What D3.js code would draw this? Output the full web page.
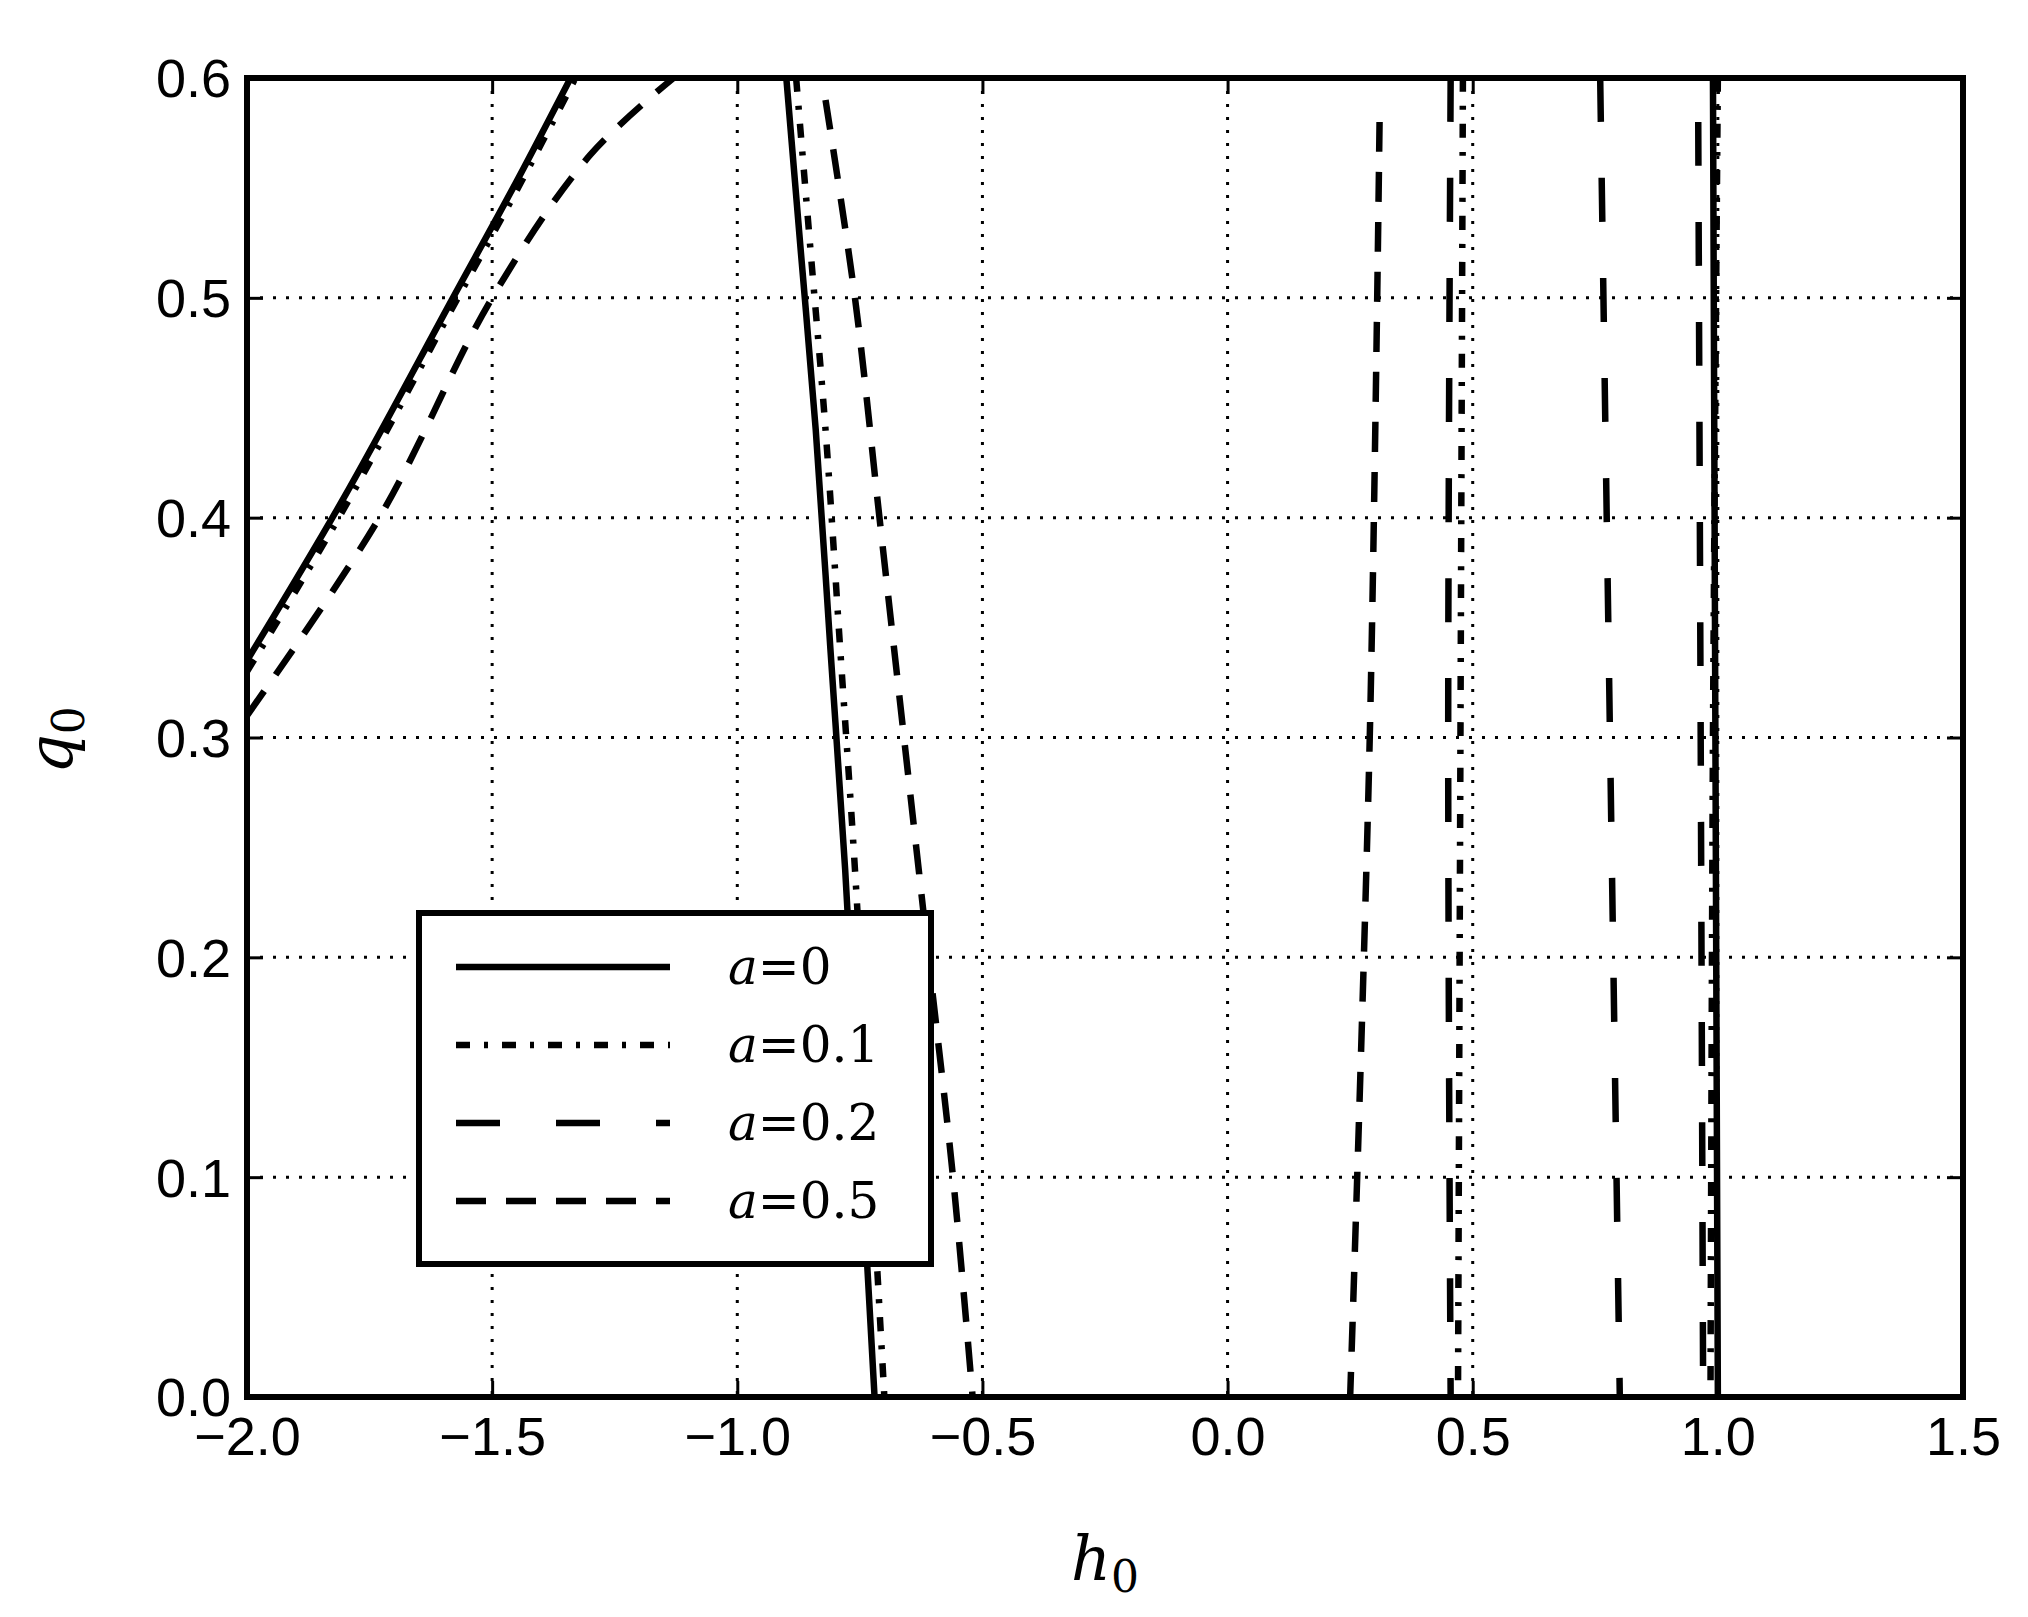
<!DOCTYPE html>
<html><head><meta charset="utf-8">
<script src="https://cdn.jsdelivr.net/npm/d3@7"></script>
<style>body{margin:0;background:#fff}svg{font-family:"DejaVu Sans",sans-serif}</style>
</head><body>
<svg id="c" width="2028" height="1617"></svg>
<script>
// curves: [h0, q0] pairs
const a0 = [
  [[-2.0,0.335],[-1.8,0.41],[-1.58,0.5],[-1.45,0.553],[-1.34,0.6]],
  [[-0.9,0.6],[-0.87,0.52],[-0.84,0.44],[-0.81,0.34],[-0.78,0.24],[-0.75,0.12],[-0.72,0.0]],
  [[0.99,0.6],[0.995,0.3],[1.0,0.0]]
]
const a1 = [
  [[-2.0,0.33],[-1.8,0.405],[-1.57,0.5],[-1.44,0.553],[-1.33,0.6]],
  [[-0.88,0.6],[-0.85,0.52],[-0.82,0.44],[-0.79,0.34],[-0.76,0.24],[-0.73,0.12],[-0.70,0.0]],
  [[0.48,0.6],[0.475,0.3],[0.47,0.0]],
  [[1.0,0.6],[0.99,0.3],[0.985,0.0]]
]
const a2 = [
  [[0.455,0.6],[0.45,0.3],[0.455,0.0]],
  [[0.76,0.6],[0.78,0.3],[0.8,0.0]],
  [[0.96,0.58],[0.965,0.3],[0.97,0.0]]
]
const a5 = [
  [[-2.0,0.31],[-1.73,0.4],[-1.5,0.5],[-1.3,0.565],[-1.13,0.6]],
  [[-0.82,0.59],[-0.76,0.5],[-0.71,0.4],[-0.66,0.3],[-0.61,0.2],[-0.56,0.1],[-0.52,0.0]],
  [[0.31,0.58],[0.29,0.3],[0.25,0.0]]
]
const series = [
  {label:'0', data:a0, dash:null},
  {label:'0.1', data:a1, dash:'14,14,4,14'},
  {label:'0.2', data:a2, dash:'44,56'},
  {label:'0.5', data:a5, dash:'30,20'}
]
const xTicks = [-2.0,-1.5,-1.0,-0.5,0.0,0.5,1.0,1.5]
const yTicks = [0.0,0.1,0.2,0.3,0.4,0.5,0.6]

const L=247, R=1963, T=78, B=1397
const svg = d3.select('#c')
const x = d3.scaleLinear().domain([-2,1.5]).range([L,R])
const y = d3.scaleLinear().domain([0,0.6]).range([B,T])

svg.append('defs').append('clipPath').attr('id','clip')
  .append('rect').attr('x',L).attr('y',T).attr('width',R-L).attr('height',B-T)

const grid = svg.append('g').attr('stroke','#000').attr('stroke-width',3).attr('stroke-dasharray','3,10')
grid.selectAll('.gx').data(xTicks.slice(1,-1)).join('line')
  .attr('x1',d=>x(d)).attr('x2',d=>x(d)).attr('y1',T).attr('y2',B)
grid.selectAll('.gy').data(yTicks.slice(1,-1)).join('line')
  .attr('y1',d=>y(d)).attr('y2',d=>y(d)).attr('x1',L).attr('x2',R)

const g = svg.append('g').attr('clip-path','url(#clip)')
series.forEach(s => {
  s.data.forEach(seg => {
    g.append('path').attr('d', d3.line().x(d=>x(d[0])).y(d=>y(d[1])).curve(d3.curveCatmullRom)(seg))
      .attr('fill','none').attr('stroke','#000').attr('stroke-width',6.5)
      .attr('stroke-dasharray', s.dash)
  })
})

const ax = svg.append('g').attr('transform',`translate(0,${B})`)
  .call(d3.axisBottom(x).tickValues(xTicks).tickFormat(d=>d3.format('.1f')(d).replace('-','\u2212')).tickSize(-16).tickPadding(20))
const ay = svg.append('g').attr('transform',`translate(${L},0)`)
  .call(d3.axisLeft(y).tickValues(yTicks).tickFormat(d3.format('.1f')).tickSize(-16).tickPadding(16))
const axt = svg.append('g').attr('transform',`translate(0,${T})`)
  .call(d3.axisTop(x).tickValues(xTicks).tickFormat('').tickSize(-16))
const ayr = svg.append('g').attr('transform',`translate(${R},0)`)
  .call(d3.axisRight(y).tickValues(yTicks).tickFormat('').tickSize(-16))
;[ax,ay,axt,ayr].forEach(a=>{
  a.select('.domain').remove()
  a.selectAll('line').attr('stroke','#000').attr('stroke-width',3)
  a.selectAll('text').attr('font-size',54).attr('fill','#000')
})
ay.selectAll('text').attr('dy','0.35em')
svg.append('rect').attr('x',L).attr('y',T).attr('width',R-L).attr('height',B-T)
  .attr('fill','none').attr('stroke','#000').attr('stroke-width',6)

svg.append('text').attr('x',(L+R)/2).attr('y',1580).attr('text-anchor','middle')
  .attr('font-family','"DejaVu Serif",serif').attr('font-style','italic').attr('font-size',62)
  .html('h<tspan font-size="44" dy="12" font-style="normal">0</tspan>')
svg.append('text').attr('transform','translate(72,740) rotate(-90)').attr('text-anchor','middle')
  .attr('font-family','"DejaVu Serif",serif').attr('font-style','italic').attr('font-size',62)
  .html('q<tspan font-size="44" dy="12" font-style="normal">0</tspan>')

// legend
const lg = svg.append('g')
lg.append('rect').attr('x',419).attr('y',913).attr('width',512).attr('height',351)
  .attr('fill','#fff').attr('stroke','#000').attr('stroke-width',6)
series.forEach((s,i)=>{
  const yy = 967 + i*78
  lg.append('line').attr('x1',456).attr('x2',670).attr('y1',yy).attr('y2',yy)
    .attr('stroke','#000').attr('stroke-width',6.5).attr('stroke-dasharray',s.dash)
  lg.append('text').attr('x',728).attr('y',yy+17).attr('font-size',50)
    .attr('font-family','"DejaVu Serif",serif')
    .html(`<tspan font-style="italic">a</tspan>=${s.label}`)
})
</script>
</body></html>
